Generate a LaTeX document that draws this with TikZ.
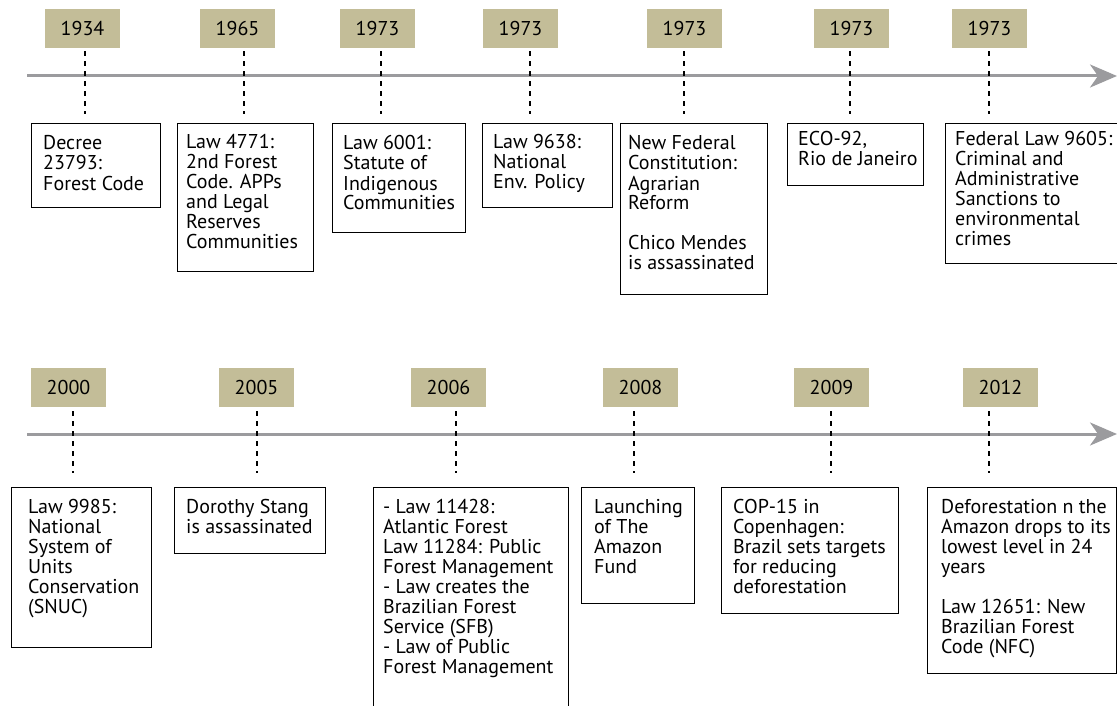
\documentclass[tikz,border=0pt]{standalone}
\usepackage{fontspec}
\setmainfont{PT Sans}
\usetikzlibrary{arrows.meta}
\definecolor{yeartan}{RGB}{195,189,152}
\definecolor{axisgray}{RGB}{155,155,158}
% multi-line text whose reference point is the baseline of its first line
\newcommand\evlines[1]{\vtop{\baselineskip=20pt\lineskiplimit=-20pt\halign{##\hfil\cr#1\crcr}}}
\begin{document}
\begin{tikzpicture}[x=1pt,y=-1pt,
  font=\fontsize{20}{20}\selectfont,
  year/.style={fill=yeartan, minimum width=75pt, minimum height=39pt, inner sep=0pt, text=black},
  evbox/.style={draw=black, line width=1.2pt, anchor=north west, inner sep=0pt},
  evtext/.style={anchor=base west, inner sep=0pt, text=black},
  tick/.style={draw=black, line width=2pt, dash pattern=on 5pt off 5pt},
  axis/.style={draw=axisgray, line width=3pt, -{Stealth[length=27pt,width=23pt,inset=8pt]}}]
\useasboundingbox (0,0) rectangle (1117,706);

% ---------- first timeline ----------
\coordinate (a1s) at (27,76);
\coordinate (a1e) at (1117,76);
\draw[axis] (a1s) -- (a1e);

\node[year] (y1) at (82.5,28.5) {1934};
\node[year] (y2) at (237.5,28.5) {1965};
\node[year] (y3) at (377.5,28.5) {1973};
\node[year] (y4) at (520.5,28.5) {1973};
\node[year] (y5) at (684.5,28.5) {1973};
\node[year] (y6) at (851.5,28.5) {1973};
\node[year] (y7) at (989.5,28.5) {1973};

\node[evbox, minimum width=129pt, minimum height=84pt] (e1) at (31,123) {};
\node[evbox, minimum width=136pt, minimum height=148pt] (e2) at (177,123) {};
\node[evbox, minimum width=133pt, minimum height=109pt] (e3) at (332,123) {};
\node[evbox, minimum width=130pt, minimum height=84pt] (e4) at (482,123) {};
\node[evbox, minimum width=147pt, minimum height=171pt] (e5) at (620,123) {};
\node[evbox, minimum width=136pt, minimum height=62pt] (e6) at (787,123) {};
\node[evbox, minimum width=180pt, minimum height=140pt] (e7) at (945,123) {};

\node[evtext] at (43,150) {\evlines{Decree\cr 23793:\cr Forest Code}};
\node[evtext] at (186,149) {\evlines{Law 4771:\cr 2nd Forest\cr Code. APPs\cr and Legal\cr Reserves\cr Communities}};
\node[evtext] at (343,150) {\evlines{Law 6001:\cr Statute of\cr Indigenous\cr Communities}};
\node[evtext] at (493,149) {\evlines{Law 9638:\cr National\cr Env. Policy}};
\node[evtext] at (628,150) {\evlines{New Federal\cr Constitution:\cr Agrarian\cr Reform\cr\cr Chico Mendes\cr is assassinated}};
\node[evtext] at (798,146) {\evlines{ECO-92,\cr Rio de Janeiro}};
\node[evtext] at (955,146) {\evlines{Federal Law 9605:\cr Criminal and\cr Administrative\cr Sanctions to\cr environmental\cr crimes}};

\coordinate (k1) at (85,0);
\coordinate (k2) at (244,0);
\coordinate (k3) at (381,0);
\coordinate (k4) at (530,0);
\coordinate (k5) at (684,0);
\coordinate (k6) at (850,0);
\coordinate (k7) at (989,0);
\foreach \i in {1,...,7}
  \draw[tick] ([yshift=-3pt]y\i.south -| k\i) -- ([yshift=9pt]e\i.north -| k\i);

% ---------- second timeline ----------
\coordinate (a2s) at (27,434);
\coordinate (a2e) at (1117,434);
\draw[axis] (a2s) -- (a2e);

\node[year] (z1) at (68.5,387.5) {2000};
\node[year] (z2) at (256.5,387.5) {2005};
\node[year] (z3) at (448.5,387.5) {2006};
\node[year] (z4) at (640.5,387.5) {2008};
\node[year] (z5) at (831.5,387.5) {2009};
\node[year] (z6) at (1000.5,387.5) {2012};

\node[evbox, minimum width=140pt, minimum height=160pt] (b1) at (11,487) {};
\node[evbox, minimum width=151pt, minimum height=66pt] (b2) at (174,487) {};
\node[evbox, minimum width=195pt, minimum height=230pt] (b3) at (373,487) {};
\node[evbox, minimum width=113pt, minimum height=116pt] (b4) at (581,487) {};
\node[evbox, minimum width=177pt, minimum height=126pt] (b5) at (721,487) {};
\node[evbox, minimum width=189pt, minimum height=186pt] (b6) at (927,487) {};

\node[evtext] at (28,513) {\evlines{Law 9985:\cr National\cr System of\cr Units\cr Conservation\cr (SNUC)}};
\node[evtext] at (186,513) {\evlines{Dorothy Stang\cr is assassinated}};
\node[evtext] at (383,513) {\evlines{- Law 11428:\cr Atlantic Forest\cr Law 11284: Public\cr Forest Management\cr - Law creates the\cr Brazilian Forest\cr Service (SFB)\cr - Law of Public\cr Forest Management}};
\node[evtext] at (594,513) {\evlines{Launching\cr of The\cr Amazon\cr Fund}};
\node[evtext] at (733,513) {\evlines{COP-15 in\cr Copenhagen:\cr Brazil sets targets\cr for reducing\cr deforestation}};
\node[evtext] at (941,513) {\evlines{Deforestation n the\cr Amazon drops to its\cr lowest level in 24\cr years\cr\cr Law 12651: New\cr Brazilian Forest\cr Code (NFC)}};

\coordinate (m1) at (73,0);
\coordinate (m2) at (257,0);
\coordinate (m3) at (456,0);
\coordinate (m4) at (634,0);
\coordinate (m5) at (831,0);
\coordinate (m6) at (989,0);
\foreach \i in {1,...,6}
  \draw[tick] ([yshift=-4pt]z\i.south -| m\i) -- ([yshift=14pt]b\i.north -| m\i);
\end{tikzpicture}
\end{document}
